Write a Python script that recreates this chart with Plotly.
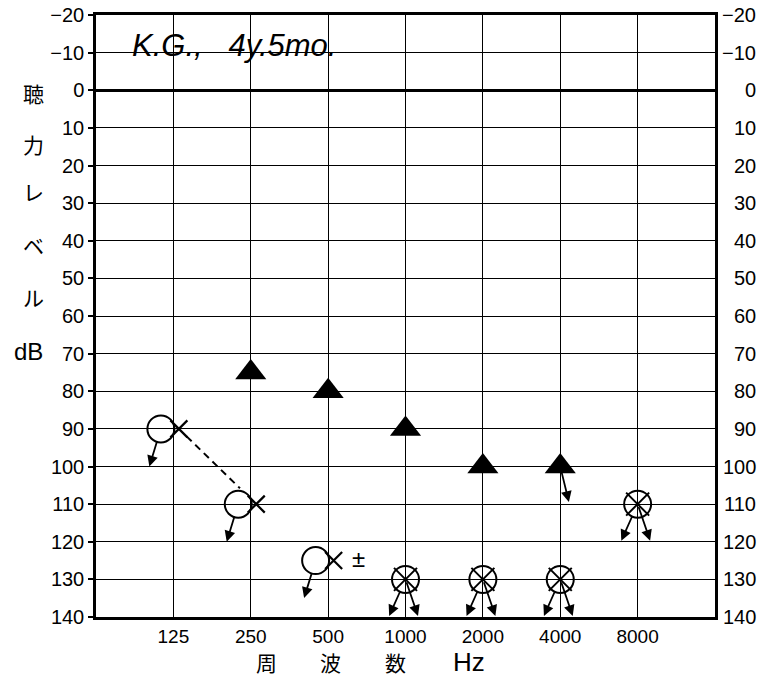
import math
import plotly.graph_objects as go

# ---------------- data ----------------
freq_ticks = [125, 250, 500, 1000, 2000, 4000, 8000]
freq_labels = ["125", "250", "500", "1000", "2000", "4000", "8000"]
db_ticks = [-20, -10, 0, 10, 20, 30, 40, 50, 60, 70, 80, 90, 100, 110, 120, 130, 140]
db_labels = ["\u221220", "\u221210", "0", "10", "20", "30", "40", "50", "60", "70",
             "80", "90", "100", "110", "120", "130", "140"]

# filled triangles
tri_freqs = [250, 500, 1000, 2000, 4000]
tri_db = [75, 80, 90, 100, 100]
tri_scaleout = [False, False, False, False, True]

# open circle + X pairs (no response)
pair_freqs = [125, 250, 500]
pair_db = [90, 110, 125]

# circle with cross (no response)
cross_freqs = [1000, 2000, 4000, 8000]
cross_db = [130, 130, 130, 110]

note_text = "K.G.,&#160;&#160;&#160;4y.5mo."

# ---------------- helpers ----------------
def lx(f):
    return math.log2(f / 125.0)

PX = 619 / 8.0  # px per octave
circ_off = -12.5 / PX
x_off = 5.5 / PX

NARROW = "Liberation Sans Narrow, Arial Narrow, Liberation Sans, sans-serif"
SANS = "Liberation Sans, Arial, sans-serif"
CJK = "Noto Sans CJK JP, sans-serif"

fig = go.Figure()

# dashed line between X marks at 125 and 250
xa, ya = lx(pair_freqs[0]) + x_off, pair_db[0]
xb, yb = lx(pair_freqs[1]) + x_off, pair_db[1]
t0, t1 = 0.10, 0.79
fig.add_trace(go.Scatter(
    x=[xa + t0 * (xb - xa), xa + t1 * (xb - xa)],
    y=[ya + t0 * (yb - ya), ya + t1 * (yb - ya)],
    mode="lines", line=dict(color="black", width=2, dash="7px,5px"),
    hoverinfo="skip", showlegend=False))

# triangles
fig.add_trace(go.Scatter(
    x=[lx(f) for f in tri_freqs], y=tri_db, mode="markers",
    marker=dict(symbol="triangle-up", size=27, color="black"),
    showlegend=False))

# circles
fig.add_trace(go.Scatter(
    x=[lx(f) + circ_off for f in pair_freqs], y=pair_db, mode="markers",
    marker=dict(symbol="circle-open", size=27, color="black", line=dict(width=2)),
    showlegend=False))
# X marks
fig.add_trace(go.Scatter(
    x=[lx(f) + x_off for f in pair_freqs], y=pair_db, mode="markers",
    marker=dict(symbol="x-thin-open", size=17, color="black", line=dict(width=2.2)),
    showlegend=False))

# crossed circles
fig.add_trace(go.Scatter(
    x=[lx(f) for f in cross_freqs], y=cross_db, mode="markers",
    marker=dict(symbol="circle-open", size=27, color="black", line=dict(width=2)),
    showlegend=False))
fig.add_trace(go.Scatter(
    x=[lx(f) for f in cross_freqs], y=cross_db, mode="markers",
    marker=dict(symbol="x-thin-open", size=23, color="black", line=dict(width=2)),
    showlegend=False))

ann = []

def arrow(x, y, ax, ay, standoff, xshift=0):
    ann.append(dict(x=x, y=y, xref="x", yref="y", ax=ax, ay=ay, text="",
                    showarrow=True, arrowside="start", startarrowhead=2,
                    startarrowsize=1.2, arrowwidth=1.8, arrowcolor="black",
                    standoff=standoff, xshift=xshift))

for f, d in zip(pair_freqs, pair_db):
    arrow(lx(f), d, -12, 39, 13, xshift=-12.5)

for f, d in zip(cross_freqs, cross_db):
    arrow(lx(f), d, -17, 38, 13)
    arrow(lx(f), d, 13, 38, 3)

for f, d, s in zip(tri_freqs, tri_db, tri_scaleout):
    if s:
        arrow(lx(f), d, 9, 37, 5)

# ± next to X at 500
ann.append(dict(x=lx(pair_freqs[2]), y=pair_db[2], xref="x", yref="y",
                text="\u00b1", showarrow=False, xshift=30, yshift=2,
                font=dict(family=SANS, size=24, color="black")))

# right side tick labels
for v, t in zip(db_ticks, db_labels):
    ann.append(dict(x=1, y=v, xref="paper", yref="y", text=t, showarrow=False,
                    xanchor="right", xshift=43,
                    font=dict(family=NARROW, size=20, color="black")))

# handwritten note
ann.append(dict(x=lx(125) - 0.56, y=-12, xref="x", yref="y", text=note_text,
                showarrow=False, xanchor="left", yanchor="middle",
                font=dict(family=SANS, size=31, color="black", style="italic")))

# y axis title characters
ytitle = [("聴", 93), ("力", 144), ("レ", 191), ("ベ", 245), ("ル", 297)]
for ch, py in ytitle:
    ann.append(dict(x=33, y=1 - (py - 15) / 602.0, xref="paper", yref="paper",
                    text=ch, showarrow=False, xanchor="center", yanchor="middle",
                    font=dict(family=CJK, size=21, color="black")))
ann.append(dict(x=28, y=1 - (351 - 15) / 602.0, xref="paper", yref="paper",
                text="dB", showarrow=False, xanchor="center", yanchor="middle",
                font=dict(family=SANS, size=24, color="black")))

# x axis title
xtitle = [("周", 266, CJK, 21), ("波", 330, CJK, 21), ("数", 395, CJK, 21), ("Hz", 469, SANS, 26)]
for ch, px, fam, sz in xtitle:
    ann.append(dict(x=(px - 96) / 619.0, y=-(661.5 - 617) / 602.0, xref="paper", yref="paper",
                    text=ch, showarrow=False, xanchor="center", yanchor="middle",
                    font=dict(family=fam, size=sz, color="black")))

# convert pixel-based x for y title (paper coords)
for a in ann:
    if a.get("xref") == "paper" and a["x"] > 1.5:
        a["x"] = (a["x"] - 96) / 619.0

fig.update_layout(
    width=770, height=676,
    margin=dict(l=96, r=55, t=15, b=59, autoexpand=False),
    paper_bgcolor="white", plot_bgcolor="white",
    annotations=ann,
    xaxis=dict(range=[-1, 7], tickvals=[lx(f) for f in freq_ticks], ticktext=freq_labels,
               automargin=False,
               showgrid=True, gridcolor="black", gridwidth=1.3, zeroline=False,
               showline=True, linecolor="black", linewidth=2.5, mirror=True,
               ticks="", tickfont=dict(family=SANS, size=19, color="black")),
    yaxis=dict(range=[140, -20], tickvals=db_ticks, ticktext=db_labels,
               automargin=False,
               showgrid=True, gridcolor="black", gridwidth=1.3,
               zeroline=True, zerolinecolor="black", zerolinewidth=2.6,
               showline=True, linecolor="black", linewidth=2.5, mirror=True,
               ticks="outside", ticklen=5, tickwidth=1.5, tickcolor="black",
               tickfont=dict(family=NARROW, size=20, color="black")),
)

fig.write_html("out.html", config={"displayModeBar": False},
               post_script="document.body.style.margin='0';document.body.style.padding='0';")
